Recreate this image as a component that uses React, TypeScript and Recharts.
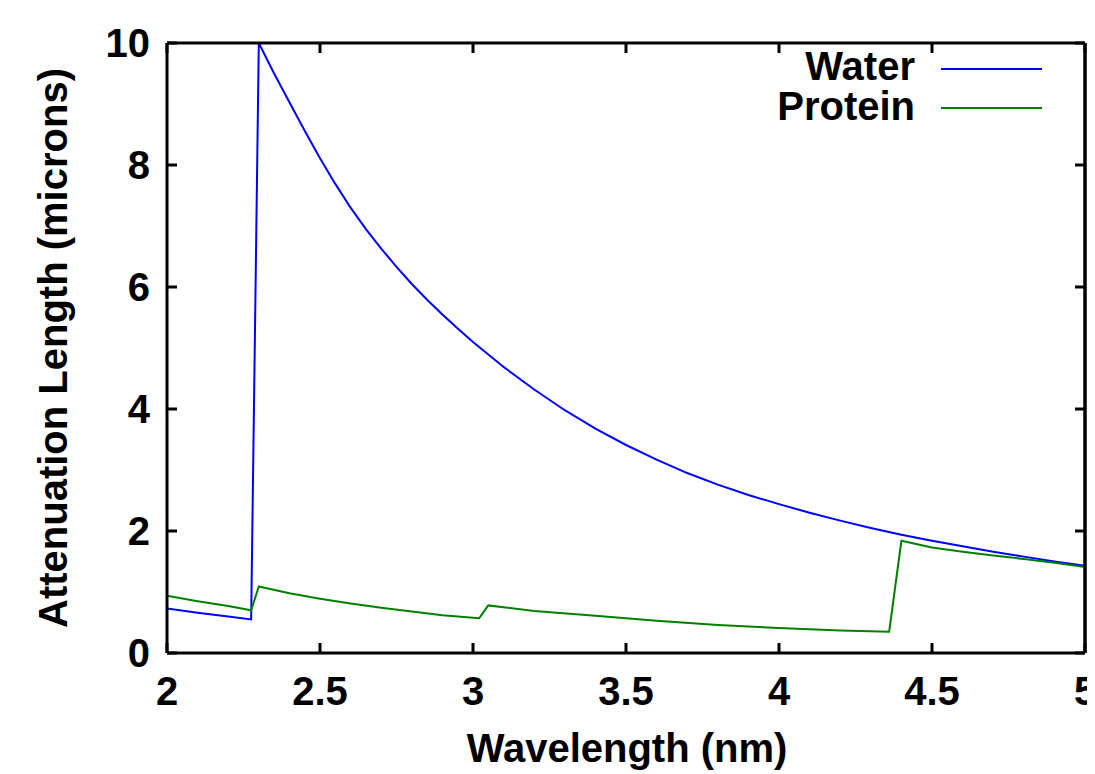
import React from 'react';
import { LineChart, Line, XAxis, YAxis, Legend, ReferenceLine } from 'recharts';

const waterWavelength = [2.0, 2.1, 2.2, 2.275, 2.3, 2.35, 2.4, 2.45, 2.5, 2.55, 2.6, 2.65, 2.7, 2.75, 2.8, 2.85, 2.9, 2.95, 3.0, 3.1, 3.2, 3.3, 3.4, 3.5, 3.6, 3.7, 3.8, 3.9, 4.0, 4.1, 4.2, 4.3, 4.4, 4.5, 4.6, 4.7, 4.8, 4.9, 5.0];
const waterLength = [0.73, 0.66, 0.6, 0.55, 10.0, 9.5, 9.03, 8.56, 8.11, 7.69, 7.3, 6.95, 6.63, 6.33, 6.05, 5.79, 5.55, 5.32, 5.1, 4.69, 4.32, 3.98, 3.68, 3.41, 3.17, 2.95, 2.76, 2.59, 2.44, 2.3, 2.17, 2.05, 1.94, 1.84, 1.75, 1.66, 1.58, 1.5, 1.43];

const proteinWavelength = [2.0, 2.1, 2.2, 2.275, 2.3, 2.4, 2.5, 2.6, 2.7, 2.8, 2.9, 3.02, 3.05, 3.2, 3.4, 3.6, 3.8, 4.0, 4.2, 4.36, 4.4, 4.5, 4.6, 4.7, 4.8, 4.9, 5.0];
const proteinLength = [0.94, 0.85, 0.77, 0.7, 1.09, 0.98, 0.89, 0.81, 0.74, 0.68, 0.62, 0.57, 0.78, 0.69, 0.61, 0.53, 0.46, 0.41, 0.37, 0.35, 1.84, 1.73, 1.66, 1.6, 1.54, 1.48, 1.41];

const legendOrder = ['Water', 'Protein'];
const xTicks = [2, 2.5, 3, 3.5, 4, 4.5, 5];
const yTicks = [0, 2, 4, 6, 8, 10];
const xDomain: [number, number] = [2, 5];
const yDomain: [number, number] = [0, 10];

const waterData = waterWavelength.map((x, i) => ({ x, y: waterLength[i] }));
const proteinData = proteinWavelength.map((x, i) => ({ x, y: proteinLength[i] }));

const FONT = '"Liberation Sans", Arial, Helvetica, sans-serif';
const tickStyle = { fill: '#000', fontSize: 40, fontWeight: 'bold', fontFamily: FONT };

const W = 1083;
const H = 766;

const EmptyTick = () => <g />;

const renderLegend = (props: any) => {
  const payload = [...(props.payload || [])].sort(
    (a: any, b: any) => legendOrder.indexOf(a.value) - legendOrder.indexOf(b.value)
  );
  return (
    <svg width={W} height={130} style={{ display: 'block' }}>
      {payload.map((p: any, i: number) => (
        <g key={i}>
          <text x={907} y={72 + i * 40} textAnchor="end" fontFamily={FONT} fontWeight="bold" fontSize={40} fill="#000">
            {p.value}
          </text>
          <line x1={933} x2={1034} y1={61 + i * 39} y2={61 + i * 39} stroke={p.color} strokeWidth={2} />
        </g>
      ))}
    </svg>
  );
};

export default function App() {
  return (
    <div style={{ width: W, height: H }}>
      <LineChart width={W} height={H} margin={{ top: 34, right: 0, bottom: 0, left: 0 }}>
        <XAxis
          dataKey="x"
          type="number"
          domain={xDomain}
          allowDataOverflow
          ticks={xTicks}
          interval={0}
          height={121}
          tickSize={-10}
          tickMargin={34}
          axisLine={{ stroke: '#000', strokeWidth: 3 }}
          tickLine={{ stroke: '#000', strokeWidth: 3 }}
          tick={tickStyle}
          label={{
            content: () => (
              <text x={619} y={754} textAnchor="middle" fontFamily={FONT} fontWeight="bold" fontSize={40} fill="#000">
                Wavelength (nm)
              </text>
            ),
          }}
        />
        <XAxis
          xAxisId="top"
          orientation="top"
          dataKey="x"
          type="number"
          domain={xDomain}
          allowDataOverflow
          ticks={xTicks}
          interval={0}
          height={1}
          tickSize={-10}
          tick={EmptyTick}
          axisLine={{ stroke: '#000', strokeWidth: 3 }}
          tickLine={{ stroke: '#000', strokeWidth: 3 }}
        />
        <YAxis
          type="number"
          domain={yDomain}
          allowDataOverflow
          ticks={yTicks}
          interval={0}
          width={159}
          tickSize={-10}
          tickMargin={27}
          axisLine={{ stroke: '#000', strokeWidth: 3 }}
          tickLine={{ stroke: '#000', strokeWidth: 3 }}
          tick={tickStyle}
          label={{
            content: () => (
              <text
                x={59}
                y={340}
                transform="rotate(-90, 59, 340)"
                textAnchor="middle"
                fontFamily={FONT}
                fontWeight="bold"
                fontSize={40}
                fill="#000"
              >
                Attenuation Length (microns)
              </text>
            ),
          }}
        />
        <YAxis
          yAxisId="right"
          orientation="right"
          type="number"
          domain={yDomain}
          allowDataOverflow
          ticks={yTicks}
          interval={0}
          width={6}
          tickSize={-10}
          tick={EmptyTick}
          axisLine={{ stroke: '#000', strokeWidth: 3 }}
          tickLine={{ stroke: '#000', strokeWidth: 3 }}
        />
        <ReferenceLine x={xDomain[1]} stroke="#000" strokeWidth={3} ifOverflow="visible" />
        <Legend
          layout="horizontal"
          verticalAlign="middle"
          align="center"
          wrapperStyle={{ top: 0, left: 0, width: W, height: 130 }}
          content={renderLegend}
        />
        <Line
          data={waterData}
          dataKey="y"
          name="Water"
          type="linear"
          stroke="#0000ff"
          strokeWidth={2}
          dot={false}
          isAnimationActive={false}
        />
        <Line
          data={proteinData}
          dataKey="y"
          name="Protein"
          xAxisId="top"
          yAxisId="right"
          type="linear"
          stroke="#008000"
          strokeWidth={2}
          dot={false}
          isAnimationActive={false}
        />
      </LineChart>
    </div>
  );
}
